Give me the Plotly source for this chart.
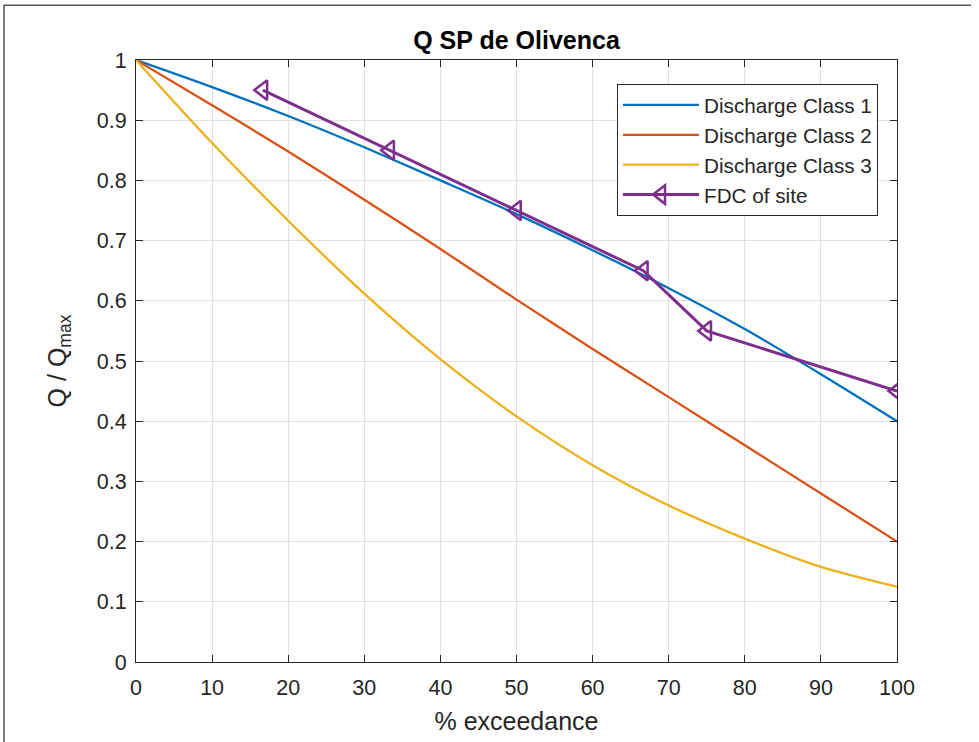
import plotly.graph_objects as go

# ---- data ----
exceedance = [0, 10, 20, 30, 40, 50, 60, 70, 80, 90, 100]
class1 = [1.0, 0.955, 0.907, 0.855, 0.800, 0.744, 0.684, 0.621, 0.553, 0.478, 0.400]
class2 = [1.0, 0.925, 0.848, 0.768, 0.686, 0.602, 0.520, 0.440, 0.360, 0.280, 0.200]
class3 = [1.0, 0.862, 0.733, 0.612, 0.503, 0.408, 0.327, 0.260, 0.205, 0.158, 0.125]

fdc_x = [16.67, 33.33, 50.0, 66.67, 75.0, 100.0]
fdc_y = [0.95, 0.85, 0.75, 0.65, 0.55, 0.45]

series_names = ["Discharge Class 1", "Discharge Class 2", "Discharge Class 3", "FDC of site"]
colors = ["#0072BD", "#D95319", "#EDB120", "#7E2F8E"]

x_ticks = [0, 10, 20, 30, 40, 50, 60, 70, 80, 90, 100]
y_ticks = [0, 0.1, 0.2, 0.3, 0.4, 0.5, 0.6, 0.7, 0.8, 0.9, 1]
y_ticktext = ["0", "0.1", "0.2", "0.3", "0.4", "0.5", "0.6", "0.7", "0.8", "0.9", "1"]

FONT = "Liberation Sans, Arial, Helvetica, sans-serif"
AX = "#262626"

fig = go.Figure()
for name, ys, col in zip(series_names[:3], [class1, class2, class3], colors[:3]):
    fig.add_trace(go.Scatter(
        x=exceedance, y=ys, mode="lines", name=name,
        line=dict(color=col, width=2.3, shape="spline", smoothing=0.8),
        legendgroup=name,
    ))
fig.add_trace(go.Scatter(
    x=fdc_x, y=fdc_y, mode="lines+markers", name=series_names[3],
    line=dict(color=colors[3], width=3),
    marker=dict(symbol="triangle-left-open", size=17, color=colors[3],
                line=dict(color=colors[3], width=2.5)),
    legendgroup=series_names[3],
))

axis_common = dict(
    showline=True, linecolor=AX, linewidth=1, mirror="ticks",
    ticks="inside", ticklen=7, tickwidth=1, tickcolor=AX,
    showgrid=True, gridcolor="#e1e1e1", gridwidth=1,
    zeroline=False,
    tickfont=dict(family=FONT, size=21.5, color=AX),
)

fig.update_layout(
    width=979, height=742,
    margin=dict(l=136, r=82, t=60, b=78),
    paper_bgcolor="white", plot_bgcolor="white",
    font=dict(family=FONT, color=AX),
    title=dict(text="<b>Q SP de Olivenca</b>", x=(136 + 897) / 2 / 979, xanchor="center",
               y=1 - 40 / 742, yanchor="middle",
               font=dict(family=FONT, size=25, color="black")),
    xaxis=dict(range=[0, 100], tickvals=x_ticks, ticklabelstandoff=6,
               title=dict(text="% exceedance", font=dict(family=FONT, size=25, color=AX), standoff=13),
               **axis_common),
    yaxis=dict(range=[0, 1], tickvals=y_ticks, ticktext=y_ticktext, ticklabelstandoff=4,
               title=dict(text="Q / Q<sub>max</sub>", font=dict(family=FONT, size=25, color=AX), standoff=23),
               **axis_common),
    legend=dict(x=(878 - 136) / 761, xanchor="right", y=(664 - 84) / 604, yanchor="top",
                bgcolor="white", bordercolor=AX, borderwidth=1,
                font=dict(family=FONT, size=20.7, color=AX),
                traceorder="grouped", tracegroupgap=0, itemwidth=76),
    showlegend=True,
    shapes=[
        dict(type="line", xref="paper", yref="paper",
             x0=-132 / 761, x1=-132 / 761, y0=-78 / 604 - 0.01, y1=(664 - 5) / 604,
             line=dict(color="black", width=1)),
        dict(type="line", xref="paper", yref="paper",
             x0=-132 / 761, x1=(971 - 136) / 761, y0=(664 - 5) / 604, y1=(664 - 5) / 604,
             line=dict(color="black", width=1)),
    ],
)

fig.write_html("out.html", config={"displayModeBar": False},
               post_script="document.body.style.margin='0';")
